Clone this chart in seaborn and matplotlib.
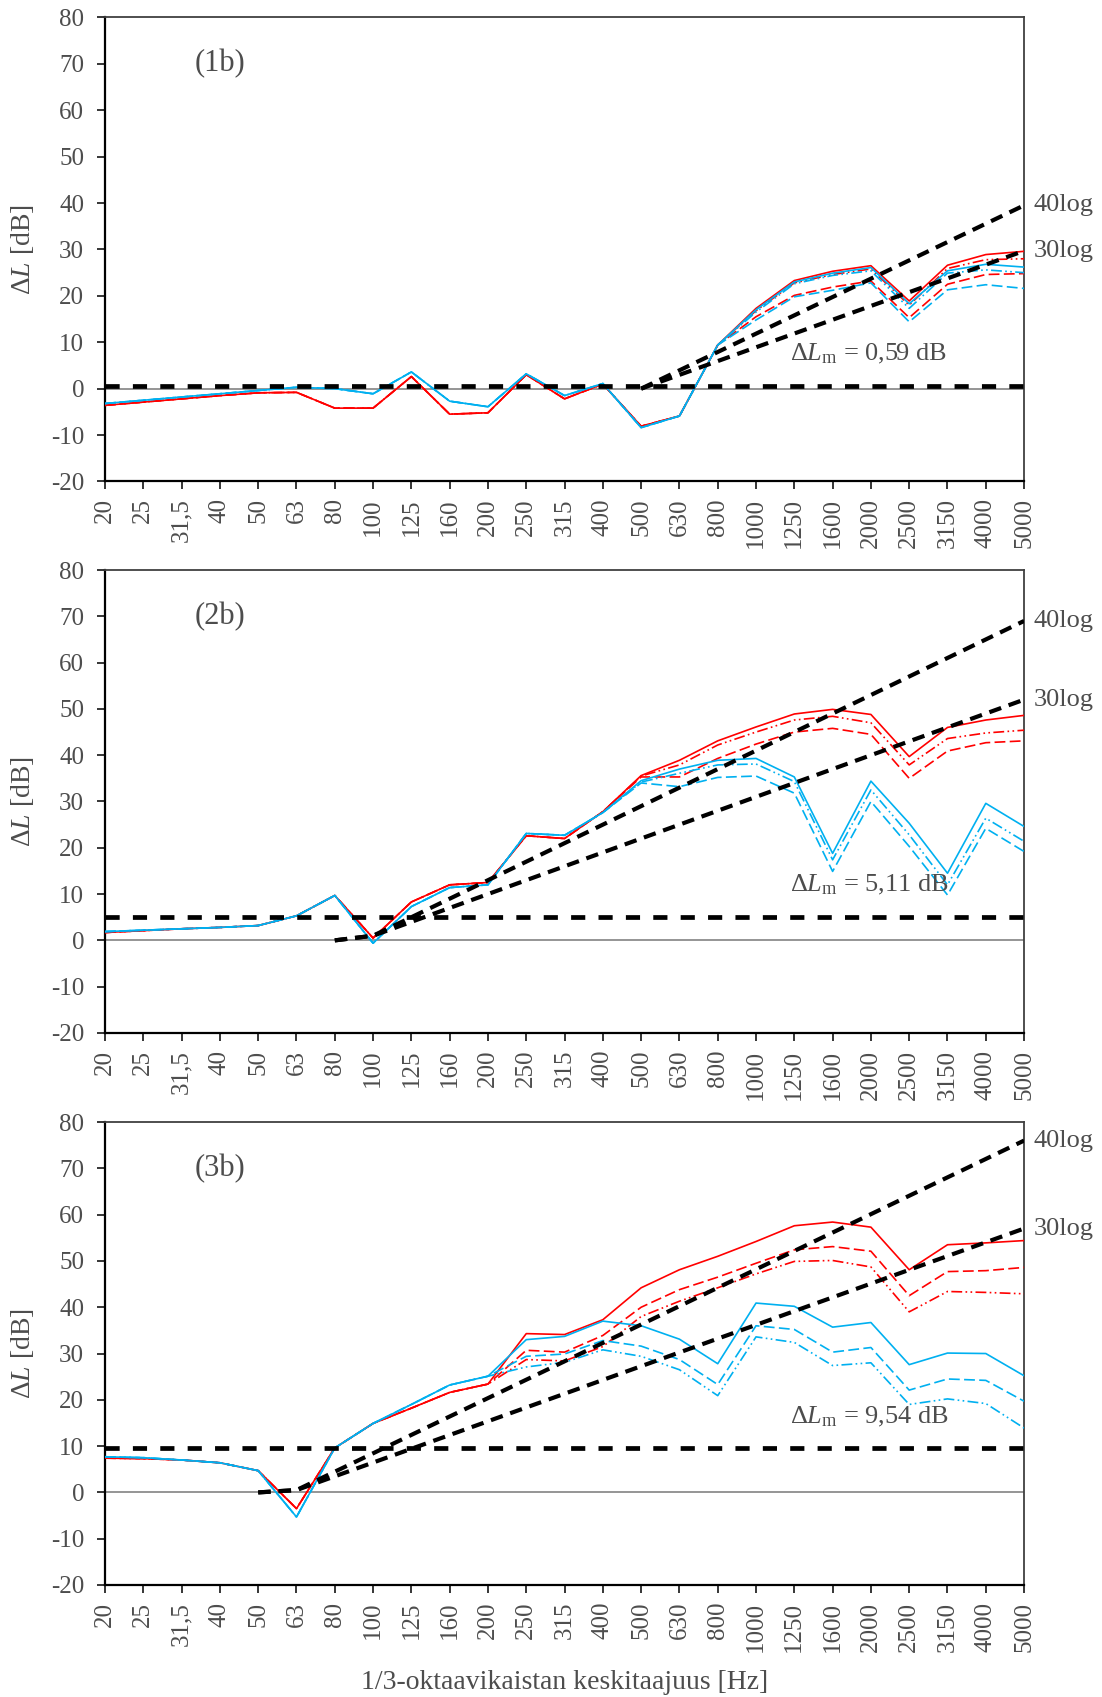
import matplotlib
matplotlib.use('Agg')
import matplotlib.pyplot as plt
import seaborn as sns
import pandas as pd
import numpy as np

sns.set_theme(style='ticks')
plt.rcParams['font.family'] = ['Liberation Serif', 'DejaVu Serif']
plt.rcParams['mathtext.fontset'] = 'custom'
plt.rcParams['mathtext.rm'] = 'Liberation Serif'
plt.rcParams['mathtext.it'] = 'Liberation Serif:italic'
plt.rcParams['axes.unicode_minus'] = False

freqs = ['20', '25', '31,5', '40', '50', '63', '80', '100', '125', '160', '200', '250', '315',
         '400', '500', '630', '800', '1000', '1250', '1600', '2000', '2500', '3150', '4000', '5000']

# (1b)
p1_red = [-3.6, -2.9, -2.2, -1.5, -0.9, -0.8, -4.2, -4.2, 2.6, -5.5, -5.2, 3.0, -2.2, 1.0, -8.1,
          -5.9, 9.4, 17.3, 23.3, 25.3, 26.5, 18.9, 26.6, 28.9, 29.6]
p1_red_dash = [-3.6, -2.9, -2.2, -1.5, -0.9, -0.8, -4.2, -4.2, 2.6, -5.5, -5.2, 3.0, -2.2, 1.0, -8.1,
               -5.9, 9.4, 15.5, 20.1, 21.9, 23.2, 15.3, 22.5, 24.6, 24.8]
p1_red_dd = [-3.6, -2.9, -2.2, -1.5, -0.9, -0.8, -4.2, -4.2, 2.6, -5.5, -5.2, 3.0, -2.2, 1.0, -8.1,
             -5.9, 9.4, 16.8, 22.8, 24.6, 25.8, 18.0, 25.9, 27.8, 28.0]
p1_blue = [-3.2, -2.5, -1.8, -1.1, -0.4, 0.3, 0.0, -1.1, 3.6, -2.7, -3.9, 3.2, -1.5, 1.1, -8.4,
           -5.9, 9.4, 17.0, 23.0, 24.9, 26.1, 18.3, 25.4, 26.8, 26.2]
p1_blue_dash = [-3.2, -2.5, -1.8, -1.1, -0.4, 0.3, 0.0, -1.1, 3.6, -2.7, -3.9, 3.2, -1.5, 1.1, -8.4,
                -5.9, 9.4, 14.8, 19.8, 21.2, 22.8, 14.4, 21.3, 22.4, 21.6]
p1_blue_dd = [-3.2, -2.5, -1.8, -1.1, -0.4, 0.3, 0.0, -1.1, 3.6, -2.7, -3.9, 3.2, -1.5, 1.1, -8.4,
              -5.9, 9.4, 16.5, 22.6, 24.4, 25.4, 17.3, 24.9, 25.6, 25.0]
p1_dlm = 0.59
p1_ref_f = ['500', '5000']
p1_40log = [0.0, 39.5]
p1_30log = [0.0, 29.7]

# (2b)
p2_red = [1.7, 2.1, 2.5, 2.8, 3.2, 5.3, 9.7, 0.5, 8.3, 12.0, 12.5, 22.6, 22.0, 27.8, 35.6,
          38.9, 43.1, 46.1, 48.9, 49.9, 48.8, 39.7, 46.0, 47.6, 48.6]
p2_red_dash = [1.7, 2.1, 2.5, 2.8, 3.2, 5.3, 9.7, 0.5, 8.3, 12.0, 12.5, 22.6, 22.0, 27.8, 35.3,
               35.3, 39.3, 42.4, 45.0, 45.8, 44.5, 35.0, 40.9, 42.7, 43.1]
p2_red_dd = [1.7, 2.1, 2.5, 2.8, 3.2, 5.3, 9.7, 0.5, 8.3, 12.0, 12.5, 22.6, 22.0, 27.8, 35.5,
             37.9, 42.2, 45.0, 47.6, 48.4, 47.0, 37.9, 43.6, 44.8, 45.4]
p2_blue = [1.9, 2.2, 2.5, 2.8, 3.2, 5.3, 9.7, -0.6, 7.3, 11.4, 12.0, 23.1, 22.7, 27.6, 34.5,
           37.0, 38.9, 39.3, 35.3, 18.8, 34.4, 25.3, 14.5, 29.6, 24.6]
p2_blue_dash = [1.9, 2.2, 2.5, 2.8, 3.2, 5.3, 9.7, -0.6, 7.3, 11.4, 12.0, 23.1, 22.7, 27.6, 34.0,
                33.2, 35.2, 35.5, 31.8, 14.9, 30.0, 20.3, 9.8, 24.2, 19.2]
p2_blue_dd = [1.9, 2.2, 2.5, 2.8, 3.2, 5.3, 9.7, -0.6, 7.3, 11.4, 12.0, 23.1, 22.7, 27.6, 34.2,
              36.1, 37.9, 38.1, 34.3, 17.4, 32.5, 22.8, 12.0, 26.4, 21.4]
p2_dlm = 5.11
p2_ref_f = ['80', '100', '5000']
p2_40log = [0.0, 1.0, 69.0]
p2_30log = [0.0, 1.0, 52.0]

# (3b)
p3_red = [7.4, 7.3, 7.0, 6.4, 4.7, -3.5, 9.6, 14.9, 18.2, 21.6, 23.4, 34.3, 34.1, 37.3, 44.2,
          48.1, 51.0, 54.2, 57.6, 58.4, 57.3, 48.1, 53.5, 53.9, 54.4]
p3_red_dash = [7.4, 7.3, 7.0, 6.4, 4.7, -3.5, 9.6, 14.9, 18.2, 21.6, 23.4, 30.7, 30.3, 33.9, 40.0,
               43.8, 46.5, 49.5, 52.4, 53.1, 52.1, 42.5, 47.7, 47.9, 48.6]
p3_red_dd = [7.4, 7.3, 7.0, 6.4, 4.7, -3.5, 9.6, 14.9, 18.2, 21.6, 23.4, 28.7, 28.4, 31.5, 38.0,
             41.3, 44.2, 47.2, 49.9, 50.1, 48.7, 39.0, 43.4, 43.2, 42.9]
p3_blue = [7.7, 7.5, 7.0, 6.4, 4.7, -5.3, 9.6, 14.9, 19.0, 23.2, 25.1, 33.0, 33.7, 37.0, 36.0,
           33.1, 27.8, 40.9, 40.2, 35.7, 36.7, 27.6, 30.1, 30.0, 25.2]
p3_blue_dash = [7.7, 7.5, 7.0, 6.4, 4.7, -5.3, 9.6, 14.9, 19.0, 23.2, 25.1, 29.4, 29.9, 32.8, 31.6,
                28.7, 23.3, 36.0, 35.2, 30.3, 31.3, 22.1, 24.5, 24.2, 19.7]
p3_blue_dd = [7.7, 7.5, 7.0, 6.4, 4.7, -5.3, 9.6, 14.9, 19.0, 23.2, 25.1, 27.1, 28.1, 30.8, 29.4,
              26.5, 20.9, 33.6, 32.4, 27.4, 28.0, 19.0, 20.2, 19.2, 13.9]
p3_dlm = 9.54
p3_ref_f = ['50', '63', '5000']
p3_40log = [0.0, 0.5, 76.0]
p3_30log = [0.0, 0.5, 57.0]

panels = [
    ('(1b)', [p1_red, p1_red_dash, p1_red_dd, p1_blue, p1_blue_dash, p1_blue_dd],
     p1_dlm, '0,59', p1_ref_f, p1_40log, p1_30log),
    ('(2b)', [p2_red, p2_red_dash, p2_red_dd, p2_blue, p2_blue_dash, p2_blue_dd],
     p2_dlm, '5,11', p2_ref_f, p2_40log, p2_30log),
    ('(3b)', [p3_red, p3_red_dash, p3_red_dd, p3_blue, p3_blue_dash, p3_blue_dd],
     p3_dlm, '9,54', p3_ref_f, p3_40log, p3_30log),
]
series_names = ['red', 'red_dash', 'red_dd', 'blue', 'blue_dash', 'blue_dd']
palette = {'red': '#FF0000', 'red_dash': '#FF0000', 'red_dd': '#FF0000',
           'blue': '#00B0F0', 'blue_dash': '#00B0F0', 'blue_dd': '#00B0F0'}
dash_map = {'red': '', 'red_dash': (6.5, 2.6), 'red_dd': (6.5, 2, 1, 2, 1, 2),
            'blue': '', 'blue_dash': (6.5, 2.6), 'blue_dd': (6.5, 2, 1, 2, 1, 2)}
# label heights of the ΔLm texts in each panel
dlm_text_y = [7.4, 11.9, 16.4]

text_col = '#4d4d4d'
pos = np.arange(len(freqs))

fig = plt.figure(figsize=(11.02, 16.97), dpi=100)
axes_boxes = [[0.0953, 0.7163, 0.834, 0.2734],
              [0.0953, 0.3913, 0.834, 0.2728],
              [0.0953, 0.0660, 0.834, 0.2728]]

for k, (tag, series, dlm, dlm_str, ref_f, l40, l30) in enumerate(panels):
    ax = fig.add_axes(axes_boxes[k])
    ax.axhline(0, color='#8c8c8c', lw=1.3, zorder=1)

    df = pd.concat([pd.DataFrame({'pos': pos, 'dL': vals, 'series': name})
                    for name, vals in zip(series_names, series)])
    sns.lineplot(data=df, x='pos', y='dL', hue='series', style='series',
                 palette=palette, dashes=dash_map, linewidth=1.2, legend=False,
                 sort=False, ax=ax, zorder=3)

    # ΔLm level
    sns.lineplot(x=[pos[0], pos[-1]], y=[dlm, dlm], color='black', lw=3.4,
                 linestyle=(0, (3.0, 2.8)), ax=ax, zorder=4)
    # 40log and 30log slopes
    ref_pos = [freqs.index(f) for f in ref_f]
    for vals in (l40, l30):
        sns.lineplot(x=ref_pos, y=vals, color='black', lw=3.0,
                     linestyle=(0, (3.0, 1.9)), sort=False, ax=ax, zorder=4)
    ax.text(24.25, l40[-1], '40log', ha='left', va='center', fontsize=19,
            color=text_col, clip_on=False)
    ax.text(24.25, l30[-1], '30log', ha='left', va='center', fontsize=19,
            color=text_col, clip_on=False)
    ax.text(17.9, dlm_text_y[k], r'$\Delta L_{\mathrm{m}}$ = ' + dlm_str + ' dB',
            ha='left', va='center', fontsize=19, color=text_col, zorder=5)
    ax.text(3, 70, tag, ha='center', va='center', fontsize=22, color=text_col)

    ax.set_xlim(0, 24)
    ax.set_ylim(-20, 80)
    ax.set_xticks(pos)
    ax.set_xticklabels(freqs, rotation=90)
    ax.set_yticks(np.arange(-20, 81, 10))
    ax.tick_params(axis='both', direction='out', length=6, width=1.1, color='black',
                   labelcolor=text_col, labelsize=18)
    ax.tick_params(axis='y', pad=9)
    ax.tick_params(axis='x', pad=6)
    ax.set_xlabel('')
    ax.set_ylabel(r'$\Delta L$ [dB]', fontsize=20, color=text_col, labelpad=11)
    for side in ('left', 'bottom'):
        ax.spines[side].set_color('black')
        ax.spines[side].set_linewidth(1.6)
    for side in ('top', 'right'):
        ax.spines[side].set_visible(True)
        ax.spines[side].set_color('#404040')
        ax.spines[side].set_linewidth(1.3)

fig.axes[-1].set_xlabel('1/3-oktaavikaistan keskitaajuus [Hz]', fontsize=20,
                        color=text_col, labelpad=13)

fig.savefig('out.png', dpi=100)
